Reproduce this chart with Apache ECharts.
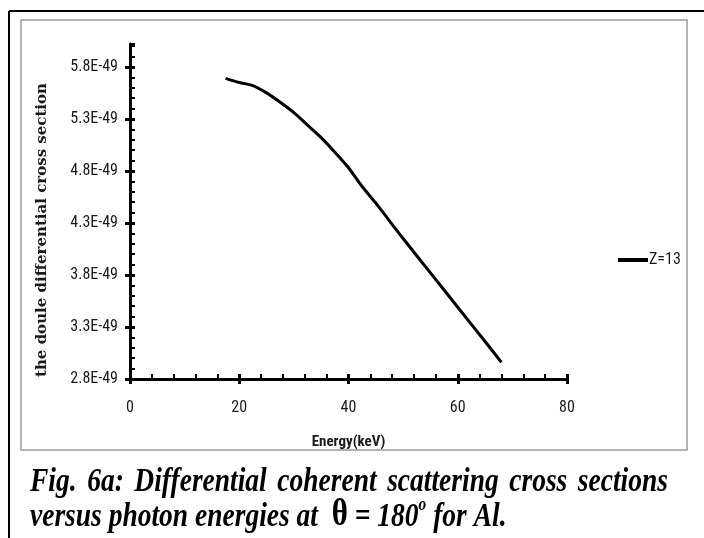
<!DOCTYPE html>
<html><head><meta charset="utf-8">
<script src="https://cdn.jsdelivr.net/npm/echarts@6/dist/echarts.min.js"></script>
<style>html,body{margin:0;padding:0;background:#fff}#c{width:704px;height:538px}</style>
</head><body><div id="c"></div>
<script>
// Data (cross section in units of 1E-49)
const energies = [17.5, 20, 22.5, 25, 27.5, 30, 32.5, 35, 37.5, 40, 42.5, 45, 50, 55, 60, 65, 68];
const crossSection = [5.69, 5.65, 5.62, 5.55, 5.46, 5.36, 5.24, 5.12, 4.98, 4.83, 4.65, 4.49, 4.15, 3.82, 3.49, 3.16, 2.96];
const seriesName = 'Z=13';
const xAxisTitle = 'Energy(keV)';
const yAxisTitle = 'the doule differential cross section';
const yLabelSuffix = 'E-49';
const xRange = [0, 80, 20];
const yRange = [2.8, 6.02, 0.5];
const captionLine1 = ['Fig.', '6a:', 'Differential', 'coherent', 'scattering', 'cross', 'sections'];
const captionLine2 = ['versus photon energies at  ', 'θ', ' = 180', 'o', ' for Al.'];

const narrow = '"Liberation Sans Narrow", "Arial Narrow", "Roboto Condensed", "Liberation Sans", sans-serif';
const serif = '"Liberation Serif", "Times New Roman", serif';

const chart = echarts.init(document.getElementById('c'), null, {renderer: 'canvas'});

// caption layout via text measurement
const ctx = document.createElement('canvas').getContext('2d');
const capSize = 32;
const capFont = `italic bold ${capSize}px ${serif}`;
function mw(t, f) { ctx.font = f; return ctx.measureText(t).width; }
const thetaFont = `bold 36px ${serif}`;
const supFont = `italic bold 18px ${serif}`;
const sx = 288 / mw('versus photon energies at', capFont);
const sy = 1.08;
const l1Left = 30, l1Right = 668;
const wds = captionLine1.map(w => mw(w, capFont) * sx);
const gap = (l1Right - l1Left - wds.reduce((a, b) => a + b, 0)) / (captionLine1.length - 1);
const graphics = [];
let cx = l1Left;
captionLine1.forEach((w, i) => {
  graphics.push({type: 'text', x: cx, y: 499, scaleX: sx, scaleY: sy, silent: true,
    style: {text: w, font: capFont, fill: '#000', align: 'left', verticalAlign: 'bottom'}});
  cx += wds[i] + gap;
});
graphics.push({type: 'text', x: 30, y: 534, scaleX: sx, scaleY: sy, silent: true,
  style: {
    text: `{a|${captionLine2[0]}}{t|${captionLine2[1]}}{a|${captionLine2[2]}}{s|${captionLine2[3]}}{a|${captionLine2[4]}}`,
    align: 'left', verticalAlign: 'bottom', fill: '#000',
    rich: {
      a: {font: capFont, fill: '#000', verticalAlign: 'bottom'},
      t: {font: thetaFont, fill: '#000', verticalAlign: 'bottom'},
      s: {font: supFont, fill: '#000', verticalAlign: 'top'}
    }
  }});
// y axis title
graphics.push({type: 'text', x: 42, y: 230, rotation: Math.PI / 2, silent: true,
  style: {text: yAxisTitle, font: 'bold 15px "DejaVu Serif", serif', fill: '#1a1a1a', align: 'center', verticalAlign: 'middle'}});
// frames
graphics.push({type: 'line', silent: true, shape: {x1: 9, y1: 11, x2: 704, y2: 11}, style: {stroke: '#000', lineWidth: 2}});
graphics.push({type: 'line', silent: true, shape: {x1: 9, y1: 11, x2: 9, y2: 538}, style: {stroke: '#000', lineWidth: 2}});
graphics.push({type: 'rect', silent: true, shape: {x: 21, y: 20, width: 666, height: 430}, style: {fill: 'none', stroke: '#9a9a9a', lineWidth: 1.5}});

const yLab = {fontFamily: narrow, fontSize: 16, color: '#1a1a1a', margin: 12, showMaxLabel: false,
  formatter: v => v.toFixed(1) + yLabelSuffix};

chart.setOption({
  animation: false,
  backgroundColor: '#fff',
  grid: {left: 130, top: 44, width: 437, height: 335},
  legend: {
    data: [{name: seriesName, icon: 'rect'}],
    left: 613, top: 247, itemWidth: 30, itemHeight: 4, itemGap: 0,
    textStyle: {fontFamily: narrow, fontSize: 16, color: '#1a1a1a', padding: [0, 0, 0, -4]}
  },
  xAxis: [{
    type: 'value', min: xRange[0], max: xRange[1], interval: xRange[2],
    name: xAxisTitle, nameLocation: 'middle', nameGap: 56,
    nameTextStyle: {fontFamily: narrow, fontSize: 15, fontWeight: 'bold', color: '#1a1a1a'},
    axisLine: {show: true, lineStyle: {color: '#000', width: 3}},
    axisTick: {show: true, inside: false, length: 5, lineStyle: {color: '#000', width: 3}},
    axisLabel: {fontFamily: narrow, fontSize: 16, color: '#1a1a1a', margin: 21},
    splitLine: {show: false}
  }, {
    type: 'value', min: xRange[0], max: xRange[1], interval: xRange[2], position: 'bottom',
    axisLine: {show: false},
    axisTick: {show: true, inside: true, length: 5, lineStyle: {color: '#000', width: 3}},
    minorTick: {show: true, splitNumber: 5, length: 5, lineStyle: {color: '#000', width: 2}},
    axisLabel: {show: false}, splitLine: {show: false}
  }],
  yAxis: [{
    type: 'value', min: yRange[0], max: yRange[1], interval: yRange[2],
    axisLine: {show: true, lineStyle: {color: '#000', width: 3}},
    axisTick: {show: true, inside: false, length: 5, lineStyle: {color: '#000', width: 3}},
    axisLabel: yLab,
    splitLine: {show: false}
  }, {
    type: 'value', min: yRange[0], max: yRange[1], interval: yRange[2], position: 'left',
    axisLine: {show: false},
    axisTick: {show: true, inside: true, length: 5, lineStyle: {color: '#000', width: 3}},
    minorTick: {show: true, splitNumber: 5, length: 5, lineStyle: {color: '#000', width: 2}},
    axisLabel: {show: false}, splitLine: {show: false}
  }],
  series: [{
    name: seriesName, type: 'line', xAxisIndex: 0, yAxisIndex: 0,
    data: energies.map((e, i) => [e, crossSection[i]]),
    smooth: 0.3, showSymbol: false, symbol: 'none',
    lineStyle: {color: '#000', width: 3}, itemStyle: {color: '#000'}
  }],
  graphic: graphics
});
</script></body></html>
